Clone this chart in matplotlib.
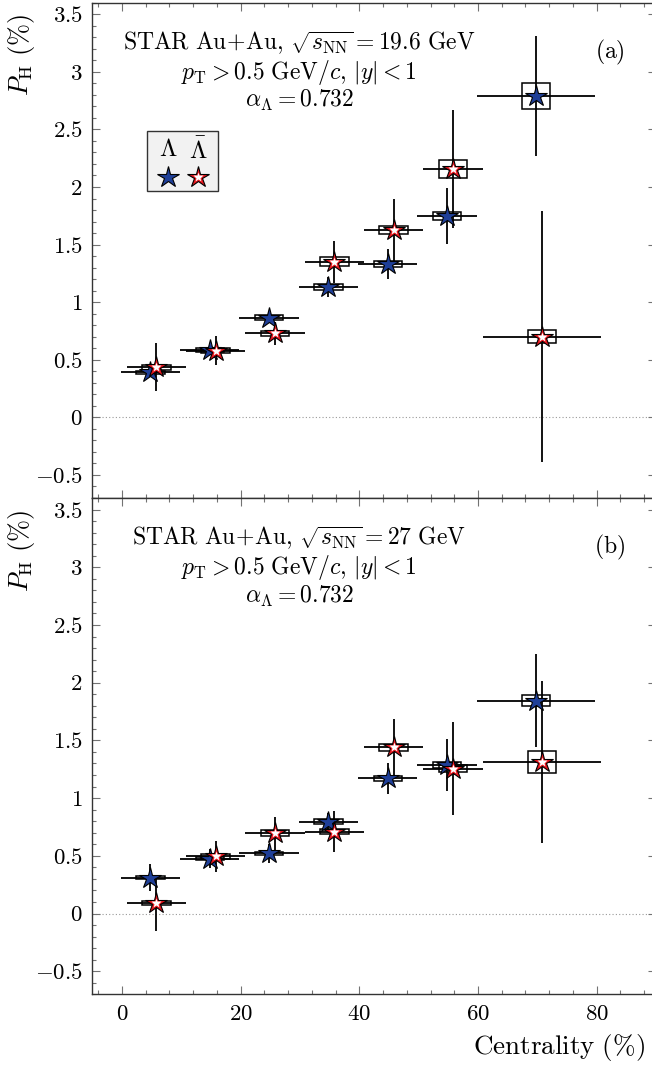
import matplotlib
matplotlib.use('Agg')
import matplotlib.pyplot as plt
import matplotlib.patches as mpatches
from matplotlib.ticker import MultipleLocator, FuncFormatter

plt.rcParams['mathtext.fontset'] = 'cm'
plt.rcParams['font.family'] = 'serif'
plt.rcParams['font.serif'] = ['cmr10', 'DejaVu Serif']
plt.rcParams['axes.formatter.use_mathtext'] = True
plt.rcParams['axes.unicode_minus'] = True

# centrality bins
x_lam = [4.8, 14.8, 24.8, 34.8, 44.8, 54.8, 69.8]
x_alam = [5.8, 15.8, 25.8, 35.8, 45.8, 55.8, 70.8]
x_err = [5, 5, 5, 5, 5, 5, 10]

# (a) 19.6 GeV
lam_a = [0.39, 0.585, 0.865, 1.13, 1.33, 1.75, 2.79]
lam_a_stat = [0.04, 0.04, 0.05, 0.087, 0.13, 0.245, 0.525]
lam_a_sys = [0.015, 0.015, 0.02, 0.025, 0.028, 0.036, 0.11]
alam_a = [0.435, 0.58, 0.73, 1.35, 1.625, 2.155, 0.70]
alam_a_stat = [0.21, 0.125, 0.10, 0.185, 0.275, 0.515, 1.09]
alam_a_sys = [0.02, 0.02, 0.02, 0.04, 0.036, 0.08, 0.056]

# (b) 27 GeV
lam_b = [0.31, 0.475, 0.52, 0.795, 1.17, 1.285, 1.845]
lam_b_stat = [0.115, 0.08, 0.08, 0.08, 0.138, 0.224, 0.40]
lam_b_sys = [0.015, 0.015, 0.015, 0.02, 0.025, 0.027, 0.048]
alam_b = [0.09, 0.495, 0.695, 0.71, 1.44, 1.255, 1.315]
alam_b_stat = [0.24, 0.134, 0.142, 0.177, 0.245, 0.40, 0.70]
alam_b_sys = [0.015, 0.02, 0.025, 0.02, 0.03, 0.03, 0.095]

BLUE = '#1f3f98'
RED = '#e8141c'
BOX_HW = 2.4

W, H = 652, 1070
fig = plt.figure(figsize=(W / 100, H / 100), dpi=100)
left = 92.3 / W
width = (656 - 92.3) / W
ax_a = fig.add_axes([left, 1 - 498 / H, width, (498 - 2.7) / H])
ax_b = fig.add_axes([left, 1 - 994.3 / H, width, (994.3 - 498) / H])


def draw_series(ax, xs, ys, stat, sys, red):
    ax.errorbar(xs, ys, xerr=x_err, yerr=stat, fmt='none', ecolor='black',
                elinewidth=1.3, capsize=0, zorder=3)
    for x, y, s in zip(xs, ys, sys):
        ax.add_patch(mpatches.Rectangle((x - BOX_HW, y - s), 2 * BOX_HW, 2 * s,
                                        facecolor='none', edgecolor='black',
                                        linewidth=1.1, zorder=4))
    if red:
        ax.plot(xs, ys, ls='none', marker='*', ms=16, mfc=RED, mec='black',
                mew=0.8, zorder=5)
        ax.plot(xs, ys, ls='none', marker='*', ms=7.5, mfc='white', mec='none',
                zorder=6)
    else:
        ax.plot(xs, ys, ls='none', marker='*', ms=16, mfc=BLUE, mec='black',
                mew=0.8, zorder=5)


def style_axis(ax, energy, tag, show_x):
    ax.set_xlim(-5, 90)
    ax.set_ylim(-0.7, 3.6)
    ax.axhline(0, color='0.6', ls=(0, (1, 2)), lw=0.8, zorder=1)
    ax.xaxis.set_major_locator(MultipleLocator(20))
    ax.xaxis.set_minor_locator(MultipleLocator(4))
    ax.yaxis.set_major_locator(MultipleLocator(0.5))
    ax.yaxis.set_minor_locator(MultipleLocator(0.1))
    ax.yaxis.set_major_formatter(FuncFormatter(lambda v, p: r'$%g$' % round(v, 2)))
    ax.xaxis.set_major_formatter(FuncFormatter(lambda v, p: r'$%g$' % v))
    ax.tick_params(which='both', direction='in', top=True, right=True,
                   color='0.45', width=0.8, labelsize=16.5, pad=7)
    ax.tick_params(which='major', length=5.5)
    ax.tick_params(which='minor', length=3.2)
    if not show_x:
        ax.tick_params(axis='x', labelbottom=False)
    for sp in ax.spines.values():
        sp.set_color('0.2')
        sp.set_linewidth(1.0)
    ax.set_ylabel(r'$P_{\mathrm{H}}\ \mathrm{(\%)}$', fontsize=19)
    ax.yaxis.set_label_coords(-0.098, 0.894)
    ax.yaxis.label.set_va('bottom')
    ax.yaxis.label.set_ha('center')
    ax.text(0.367, 0.918,
            r'$\mathrm{STAR\ Au\!+\!Au,}\,\sqrt{s_{\mathrm{NN}}} = %s\ \mathrm{GeV}$' % energy,
            transform=ax.transAxes, ha='center', va='center', fontsize=17)
    ax.text(0.367, 0.859, r'$p_{\mathrm{T}} > 0.5\ \mathrm{GeV}/c,\,|y| < 1$',
            transform=ax.transAxes, ha='center', va='center', fontsize=17)
    ax.text(0.367, 0.802, r'$\alpha_{\Lambda} = 0.732$',
            transform=ax.transAxes, ha='center', va='center', fontsize=17)
    ax.text(0.918, 0.90, r'$\mathrm{(%s)}$' % tag, transform=ax.transAxes,
            ha='center', va='center', fontsize=17)


draw_series(ax_a, x_lam, lam_a, lam_a_stat, lam_a_sys, False)
draw_series(ax_a, x_alam, alam_a, alam_a_stat, alam_a_sys, True)
style_axis(ax_a, '19.6', 'a', False)

draw_series(ax_b, x_lam, lam_b, lam_b_stat, lam_b_sys, False)
draw_series(ax_b, x_alam, alam_b, alam_b_stat, alam_b_sys, True)
style_axis(ax_b, '27', 'b', True)
ax_b.set_xlabel(r'$\mathrm{Centrality\ (\%)}$', fontsize=19.5)
ax_b.xaxis.set_label_coords(0.98, -0.107)
ax_b.xaxis.label.set_ha('right')
ax_b.xaxis.label.set_va('center')

# legend box
ax_a.add_patch(mpatches.Rectangle((0.0976, 0.620), 0.125, 0.121, transform=ax_a.transAxes,
                                  facecolor='#f2f2f2', edgecolor='0.2', linewidth=1.0,
                                  zorder=7))
ax_a.text(0.135, 0.703, r'$\Lambda$', transform=ax_a.transAxes, ha='center',
          va='center', fontsize=18, zorder=8)
ax_a.text(0.188, 0.703, r'$\bar{\Lambda}$', transform=ax_a.transAxes, ha='center',
          va='center', fontsize=18, zorder=8)
ax_a.plot([0.135], [0.649], transform=ax_a.transAxes, ls='none', marker='*', ms=16,
          mfc=BLUE, mec='black', mew=0.8, zorder=8)
ax_a.plot([0.188], [0.649], transform=ax_a.transAxes, ls='none', marker='*', ms=16,
          mfc=RED, mec='black', mew=0.8, zorder=8)
ax_a.plot([0.188], [0.649], transform=ax_a.transAxes, ls='none', marker='*', ms=7.5,
          mfc='white', mec='none', zorder=9)

fig.savefig('out.png', dpi=100)
